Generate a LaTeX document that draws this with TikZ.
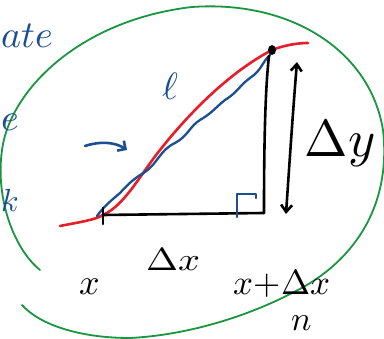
\documentclass[tikz,border=0pt]{standalone}
\usepackage{unicode-math}
\usetikzlibrary{arrows.meta}
\definecolor{pen blue}{HTML}{1B4F8F}
\definecolor{pen red}{HTML}{E61E2A}
\definecolor{pen green}{HTML}{1A9640}
\tikzset{
  ink/.style={line width=2.6pt, line cap=round, line join=round},
  greenink/.style={pen green, line width=1.8pt, line cap=round},
  bluetext/.style={text=pen blue, inner sep=0pt},
  blacktext/.style={text=black, inner sep=0pt},
}
\begin{document}
\begin{tikzpicture}[x=1pt,y=-1pt]
\useasboundingbox (0,0) rectangle (384,339);
\clip (0,0) rectangle (384,339);
\fill[white] (0,0) rectangle (384,339);

% green loop
\draw[greenink] (40,270) .. controls (15,250) and (-5,200) .. (2,150)
  .. controls (10,90) and (80,20) .. (192,7)
  .. controls (290,0) and (370,50) .. (383,130)
  .. controls (392,210) and (350,265) .. (292,293)
  .. controls (250,315) and (190,335) .. (130,338)
  .. controls (80,338) and (40,325) .. (22,305);

% named points
\coordinate (A) at (103,215);
\coordinate (B) at (264,213);
\coordinate (C) at (272,50);

% red curve
\draw[pen red, ink] (60,226) .. controls (80,222) and (95,220) .. (A)
  .. controls (125,205) and (140,175) .. (160,150)
  .. controls (190,112) and (230,72) .. (C)
  .. controls (285,45) and (298,43) .. (308,43);

% blue wavy curve
\draw[pen blue, ink, line width=2.3pt] (97,216) .. controls (105,205) and (112,200) .. (120,193)
  .. controls (130,182) and (135,178) .. (145,172)
  .. controls (158,163) and (160,150) .. (175,143)
  .. controls (188,136) and (190,126) .. (200,120)
  .. controls (212,113) and (215,108) .. (225,100)
  .. controls (238,92) and (240,85) .. (250,78)
  .. controls (262,70) and (262,62) .. (270,55);

% triangle legs
\draw[ink] (A) -- (B);
\draw[ink] (103,208) -- (103,224);
\draw[ink] (B) .. controls (264,150) and (265,90) .. (269,56);
\fill (C) ellipse (4pt and 5pt);

% right angle mark
\draw[pen blue, ink] (237,217) -- (237,194) -- (256,194) -- (256,198);

% double arrow for delta y
\coordinate (Yt) at (297,62);
\coordinate (Yb) at (286,214);
\draw[ink, {Straight Barb[length=7pt,width=11pt]}-{Straight Barb[length=7pt,width=11pt]}] (Yt) .. controls (293,110) and (289,170) .. (Yb);

% blue arrow
\coordinate (Ba) at (85,146);
\coordinate (Bb) at (127,150);
\draw[pen blue, ink, -{Straight Barb[length=6pt,width=12pt]}] (Ba) .. controls (100,141) and (115,142) .. (Bb);

% texts
\node[bluetext, anchor=west, font=\fontsize{38}{38}\selectfont] (ate) at (1,36) {$ate$};
\node[bluetext, anchor=west, font=\fontsize{38}{38}\selectfont] (e) at (1,122) {$e$};
\node[bluetext, anchor=west, font=\fontsize{32}{32}\selectfont] (k) at (1,201) {$k$};
\node[bluetext, font=\fontsize{38}{38}\selectfont] (ell) at (171,86) {$\ell$};
\node[blacktext, font=\fontsize{52}{52}\selectfont] (dy) at (340,143) {$\Delta y$};
\node[blacktext, font=\fontsize{32}{32}\selectfont, xscale=1.2] (dx) at (173,259) {$\Delta x$};
\node[blacktext, font=\fontsize{36}{36}\selectfont] (x) at (90,287) {$x$};
\node[blacktext, font=\fontsize{35}{35}\selectfont] (xdx) at (282,283) {$x{+}\Delta x$};
\node[blacktext, font=\fontsize{34}{34}\selectfont] (n) at (302,323) {$n$};
\end{tikzpicture}
\end{document}
